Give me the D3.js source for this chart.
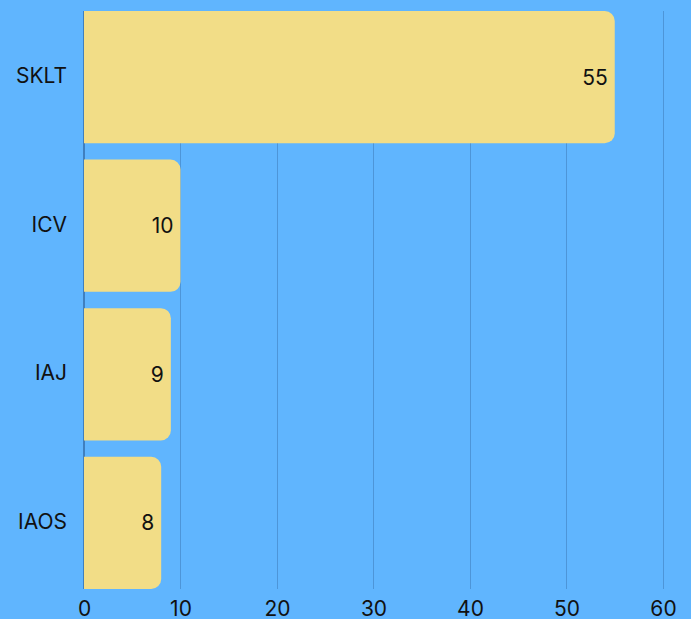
<!DOCTYPE html>
<html>
<head>
<meta charset="utf-8">
<script src="https://cdn.jsdelivr.net/npm/d3@7"></script>
<style>
html,body{margin:0;padding:0;background:#60b5fe;}
svg{display:block;}
text{font-family:Inter,"Noto Sans",sans-serif;}
</style>
</head>
<body>
<svg id="chart" width="691" height="619"></svg>
<script>
const categories = ["SKLT", "ICV", "IAJ", "IAOS"];
const values = [55, 10, 9, 8];
const tickValues = [0, 10, 20, 30, 40, 50, 60];

const W = 691, H = 619;
const margin = {left: 84, right: 28, top: 11, bottom: 30};
const FONT = "Inter, 'Noto Sans', sans-serif";
const FS = 21;
const svg = d3.select("#chart");
svg.append("rect").attr("width", W).attr("height", H).attr("fill", "#60b5fe");

const x = d3.scaleLinear().domain([0, 60]).range([margin.left, 663]);
const y = d3.scaleBand().domain(categories).range([margin.top, H - margin.bottom]).paddingInner(0.11).paddingOuter(0);

// gridlines
svg.append("g").selectAll("line").data(tickValues).join("line")
  .attr("x1", d => x(d)).attr("x2", d => x(d))
  .attr("y1", margin.top).attr("y2", H - margin.bottom)
  .attr("stroke", d => d === 0 ? "#3f7fbf" : "#4d95d8")
  .attr("stroke-width", d => d === 0 ? 2 : 1)
  .attr("shape-rendering", "crispEdges");

// bars with rounded right corners
const r = 10;
function barPath(x0, x1, y0, h) {
  const rr = Math.min(r, (x1 - x0), h / 2);
  return `M${x0},${y0}H${x1 - rr}A${rr},${rr} 0 0 1 ${x1},${y0 + rr}V${y0 + h - rr}A${rr},${rr} 0 0 1 ${x1 - rr},${y0 + h}H${x0}Z`;
}
svg.append("g").selectAll("path").data(categories).join("path")
  .attr("d", (c, i) => barPath(x(0), x(values[i]), y(c), y.bandwidth()))
  .attr("fill", "#f2dd87");

// value labels
svg.append("g").selectAll("text").data(categories).join("text")
  .attr("x", (c, i) => x(values[i]) - 7)
  .attr("y", c => y(c) + y.bandwidth() / 2)
  .attr("dy", "0.36em")
  .attr("text-anchor", "end")
  .attr("font-size", FS)
  .attr("fill", "#111")
  .attr("font-family", FONT)
  .text((c, i) => values[i]);

// y axis labels
const yAxis = d3.axisLeft(y).tickSize(0).tickPadding(17);
const gy = svg.append("g").attr("transform", `translate(${margin.left},0)`).call(yAxis);
gy.select(".domain").remove();
gy.selectAll("text").attr("font-size", FS).attr("fill", "#111").attr("font-family", FONT).attr("dy", "0.28em");

// x axis labels
const xAxis = d3.axisBottom(x).tickValues(tickValues).tickSize(0).tickPadding(0);
const gx = svg.append("g").attr("transform", `translate(0,${H - margin.bottom})`).call(xAxis);
gx.select(".domain").remove();
gx.selectAll("text").attr("font-size", FS).attr("fill", "#111").attr("y", 27).attr("dy", "0").attr("font-family", FONT);
</script>
</body>
</html>
